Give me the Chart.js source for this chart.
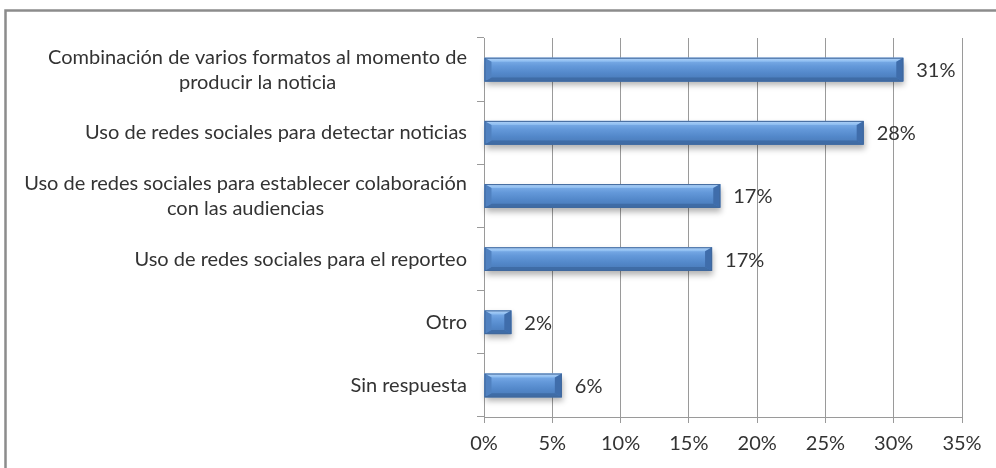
<!DOCTYPE html>
<html>
<head>
<meta charset="utf-8">
<script src="https://cdn.jsdelivr.net/npm/chart.js@4.4.0/dist/chart.umd.min.js"></script>
<style>
  html, body { margin: 0; padding: 0; background: #fff; }
  #wrap { width: 996px; height: 468px; position: relative; }
</style>
</head>
<body>
<div id="wrap"><canvas id="grafico"></canvas></div>
<script>
// Categorías (cada una puede tener varias líneas)
const categorias = [
    ["Combinación de varios formatos al momento de", "producir la noticia"],
    ["Uso de redes sociales para detectar noticias"],
    ["Uso de redes sociales para establecer colaboración", "con las audiencias"],
    ["Uso de redes sociales para el reporteo"],
    ["Otro"],
    ["Sin respuesta"]
];
// Porcentajes
const valores = [30.7, 27.8, 17.3, 16.7, 2.0, 5.7];
const etiquetas = ["31%", "28%", "17%", "17%", "2%", "6%"];
const ticksX = [0, 5, 10, 15, 20, 25, 30, 35];

const fuente = "Lato, 'Open Sans', sans-serif";
const tamFuente = 20;
const colorTexto = '#333333';

// Marco exterior
const marco = {
    id: 'marco',
    beforeDraw(chart) {
        const c = chart.ctx;
        c.save();
        c.strokeStyle = '#8c8c8c';
        c.lineWidth = 2.5;
        c.beginPath();
        c.moveTo(5.5, chart.height + 5);
        c.lineTo(5.5, 10.5);
        c.lineTo(chart.width + 5, 10.5);
        c.stroke();
        c.restore();
    }
};

// Barras con bisel y sombra, y etiquetas de valor
const bisel = {
    id: 'bisel',
    afterDatasetsDraw(chart) {
        const c = chart.ctx;
        const meta = chart.getDatasetMeta(0);
        meta.data.forEach((bar, i) => {
            const l = bar.base, r = bar.x;
            const t = bar.y - bar.height / 2, b = bar.y + bar.height / 2;
            const w = r - l, h = b - t;
            const bx = Math.min(7, w / 2), by = 4;
            c.save();
            // sombra
            c.shadowColor = 'rgba(0,0,0,0.3)';
            c.shadowBlur = 6;
            c.shadowOffsetX = 1;
            c.shadowOffsetY = 4;
            c.fillStyle = '#4a7cbc';
            c.fillRect(l, t, w, h);
            c.restore();
            c.save();
            // cara central
            const g = c.createLinearGradient(0, t, 0, b);
            g.addColorStop(0, '#86b6ee');
            g.addColorStop(0.35, '#6499da');
            g.addColorStop(0.65, '#5388ca');
            g.addColorStop(1, '#4878b6');
            c.fillStyle = g;
            c.fillRect(l, t, w, h);
            const poly = (pts, col) => {
                c.beginPath();
                c.moveTo(pts[0][0], pts[0][1]);
                for (let k = 1; k < pts.length; k++) c.lineTo(pts[k][0], pts[k][1]);
                c.closePath();
                c.fillStyle = col;
                c.fill();
            };
            // bisel superior
            const gt = c.createLinearGradient(0, t, 0, t + by);
            gt.addColorStop(0, '#b3d3f7');
            gt.addColorStop(1, '#8abbf0');
            poly([[l, t], [r, t], [r - bx, t + by], [l + bx, t + by]], gt);
            // bisel inferior
            poly([[l, b], [r, b], [r - bx, b - by], [l + bx, b - by]], '#3f6ca6');
            // extremos
            poly([[l, t], [l + bx, t + by], [l + bx, b - by], [l, b]], '#5081c0');
            poly([[r, t], [r - bx, t + by], [r - bx, b - by], [r, b]], '#3f6dab');
            // borde
            c.strokeStyle = '#41689c';
            c.lineWidth = 1;
            c.strokeRect(l + 0.5, t + 0.5, w - 1, h - 1);
            c.restore();

            // etiqueta de valor
            c.save();
            c.font = tamFuente + 'px ' + fuente;
            c.fillStyle = colorTexto;
            c.textAlign = 'left';
            c.textBaseline = 'middle';
            c.fillText(etiquetas[i], r + 13, bar.y + 1);
            c.restore();
        });
    },
    // etiquetas de categoría: bloque alineado a la derecha, líneas centradas
    afterDraw(chart) {
        const c = chart.ctx;
        const y = chart.scales.y;
        const borde = y.right - 17;
        c.save();
        c.font = tamFuente + 'px ' + fuente;
        c.fillStyle = colorTexto;
        c.textAlign = 'center';
        c.textBaseline = 'middle';
        categorias.forEach((lineas, i) => {
            const cy = y.getPixelForValue(i);
            const ancho = Math.max(...lineas.map(s => c.measureText(s).width));
            const cx = borde - ancho / 2;
            const alto = 25;
            lineas.forEach((s, k) => {
                c.fillText(s, cx, cy + (k - (lineas.length - 1) / 2) * alto);
            });
        });
        c.restore();
    }
};

new Chart(document.getElementById('grafico'), {
    type: 'bar',
    data: {
        labels: categorias.map(l => l.join(' ')),
        datasets: [{
            data: valores,
            backgroundColor: 'rgba(0,0,0,0)',
            borderWidth: 0,
            categoryPercentage: 0.75,
            barPercentage: 0.5
        }]
    },
    options: {
        indexAxis: 'y',
        responsive: true,
        maintainAspectRatio: false,
        animation: false,
        layout: { padding: { left: 0, top: 38, right: 34, bottom: 0 } },
        plugins: {
            legend: { display: false },
            tooltip: { enabled: false }
        },
        scales: {
            x: {
                min: 0,
                max: 35,
                afterBuildTicks: (s) => { s.ticks = ticksX.map(v => ({ value: v })); },
                afterFit: (s) => { s.height = 51; },
                grid: { color: '#9a9a9a', lineWidth: 1, tickLength: 6 },
                border: { color: '#9a9a9a' },
                ticks: {
                    padding: 9,
                    color: colorTexto,
                    font: { family: fuente, size: tamFuente },
                    callback: (v) => v + '%'
                }
            },
            y: {
                afterFit: (s) => { s.width = 484; },
                grid: { drawOnChartArea: false, color: '#9a9a9a', tickLength: 7, offset: true },
                border: { color: '#9a9a9a' },
                ticks: { display: false }
            }
        }
    },
    plugins: [marco, bisel]
});
</script>
</body>
</html>
